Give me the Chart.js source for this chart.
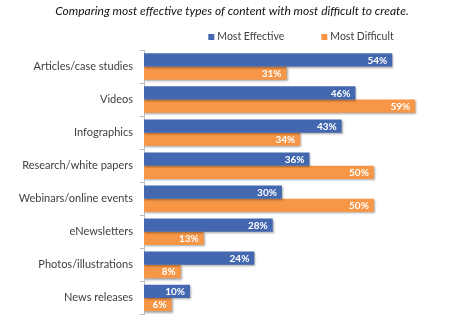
<!DOCTYPE html>
<html>
<head>
<meta charset="utf-8">
<script src="https://cdn.jsdelivr.net/npm/chart.js@4"></script>
<style>
  html, body { margin: 0; padding: 0; background: #fff; }
  #wrap { width: 454px; height: 328px; }
</style>
</head>
<body>
<div id="wrap"><canvas id="contentChart"></canvas></div>
<script>
const categories = [
  'Articles/case studies',
  'Videos',
  'Infographics',
  'Research/white papers',
  'Webinars/online events',
  'eNewsletters',
  'Photos/illustrations',
  'News releases'
];
const mostEffective = [54, 46, 43, 36, 30, 28, 24, 10];
const mostDifficult = [31, 59, 34, 50, 50, 13, 8, 6];
const seriesNames = ['Most Effective', 'Most Difficult'];
const seriesColors = ['#4368B0', '#F79646'];

const FONT = 'Lato, "Open Sans", sans-serif';

// soft drop shadow under the bars
const barShadow = {
  id: 'barShadow',
  beforeDatasetsDraw(chart) {
    const ctx = chart.ctx;
    ctx.save();
    ctx.shadowColor = 'rgba(0,0,0,0.35)';
    ctx.shadowBlur = 2;
    ctx.shadowOffsetX = 1;
    ctx.shadowOffsetY = 1.5;
  },
  afterDatasetsDraw(chart) {
    chart.ctx.restore();
  }
};

// white percentage labels inside the bar ends
const valueLabels = {
  id: 'valueLabels',
  afterDatasetsDraw(chart) {
    const ctx = chart.ctx;
    ctx.save();
    ctx.font = 'bold 10px ' + FONT;
    ctx.fillStyle = '#ffffff';
    ctx.textAlign = 'right';
    ctx.textBaseline = 'middle';
    chart.data.datasets.forEach((ds, i) => {
      chart.getDatasetMeta(i).data.forEach((bar, j) => {
        ctx.fillText(ds.data[j] + '%', bar.x - 5, bar.y + 0.5);
      });
    });
    ctx.restore();
  }
};

// legend row centred above the plot area
const topLegend = {
  id: 'topLegend',
  afterDraw(chart) {
    const ctx = chart.ctx;
    const area = chart.chartArea;
    const box = 6, gap = 3, itemGap = 37;
    ctx.save();
    ctx.font = '10.5px ' + FONT;
    ctx.textBaseline = 'middle';
    const items = chart.data.datasets.map(ds => ({
      label: ds.label,
      color: ds.backgroundColor,
      w: box + gap + ctx.measureText(ds.label).width
    }));
    const total = items.reduce((s, it) => s + it.w, 0) + itemGap * (items.length - 1);
    let x = (area.left + area.right) / 2 - total / 2 + 3;
    const y = area.top - 13;
    items.forEach(it => {
      ctx.fillStyle = it.color;
      ctx.fillRect(x, y - box / 2, box, box);
      ctx.fillStyle = '#404040';
      ctx.textAlign = 'left';
      ctx.fillText(it.label, x + box + gap, y);
      x += it.w + itemGap;
    });
    ctx.restore();
  }
};

new Chart(document.getElementById('contentChart'), {
  type: 'bar',
  data: {
    labels: categories,
    datasets: [
      { label: seriesNames[0], data: mostEffective, backgroundColor: seriesColors[0] },
      { label: seriesNames[1], data: mostDifficult, backgroundColor: seriesColors[1] }
    ]
  },
  options: {
    indexAxis: 'y',
    responsive: true,
    maintainAspectRatio: false,
    animation: false,
    datasets: {
      bar: { categoryPercentage: 0.8, barPercentage: 1.0 }
    },
    layout: { padding: { left: 12, right: 2, top: 0, bottom: 11 } },
    plugins: {
      legend: { display: false },
      tooltip: { enabled: false },
      title: {
        display: true,
        text: 'Comparing most effective types of content with most difficult to create.',
        color: '#111111',
        font: { family: FONT, size: 12, style: 'italic', weight: 'normal' },
        padding: { top: 4, bottom: 31.6 }
      }
    },
    scales: {
      x: {
        display: false,
        min: 0,
        max: 67
      },
      y: {
        afterFit(axis) { axis.width = 132; },
        border: { display: true, color: '#BFBFBF' },
        grid: {
          display: true,
          drawOnChartArea: false,
          offset: true,
          tickLength: 4,
          color: '#BFBFBF'
        },
        ticks: {
          color: '#404040',
          padding: 7,
          font: { family: FONT, size: 11 }
        }
      }
    }
  },
  plugins: [barShadow, valueLabels, topLegend]
});
</script>
</body>
</html>
